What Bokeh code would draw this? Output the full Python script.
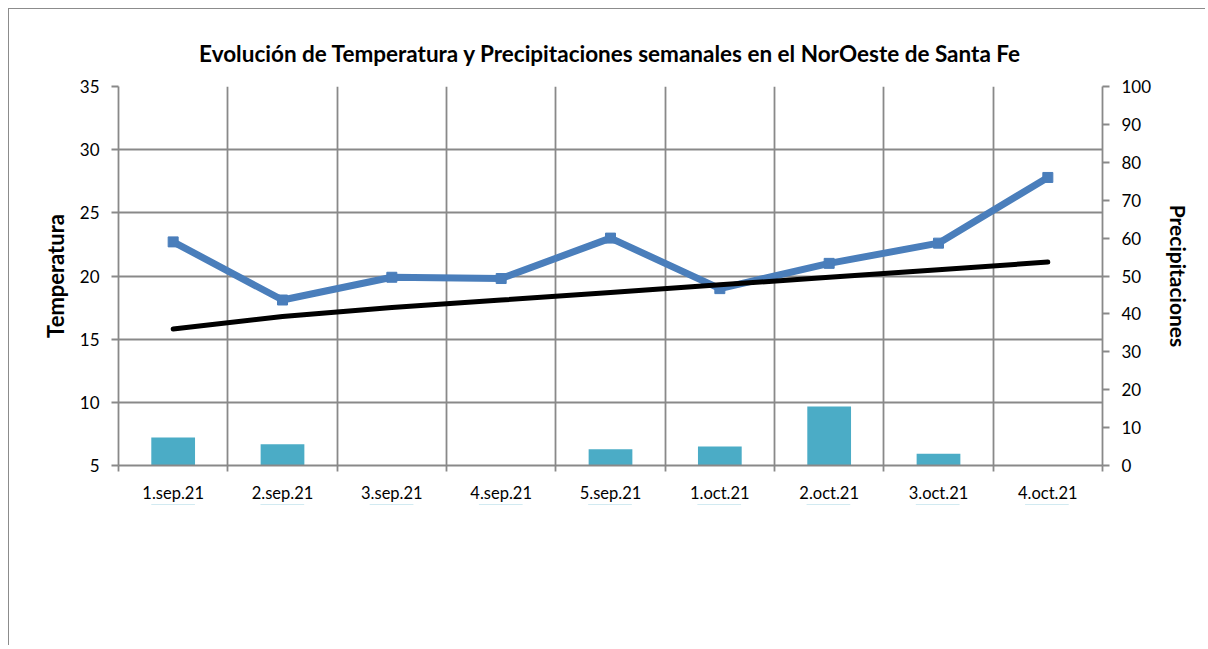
import numpy as np
from bokeh.plotting import figure
from bokeh.layouts import column
from bokeh.models import Range1d, LinearAxis, FixedTicker, Legend, LegendItem
from bokeh.embed import file_html
from bokeh.resources import INLINE

weeks = ["1.sep.21", "2.sep.21", "3.sep.21", "4.sep.21", "5.sep.21",
         "1.oct.21", "2.oct.21", "3.oct.21", "4.oct.21"]
precip = [7.4, 5.6, 0, 0, 4.3, 5.0, 15.6, 3.1, 0]
temp = [22.7, 18.1, 19.9, 19.8, 23.0, 19.0, 21.0, 22.6, 27.8]
temp_hist = [15.8, 16.8, 17.5, 18.1, 18.7, 19.3, 19.9, 20.5, 21.1]
temp_ticks = [5, 10, 15, 20, 25, 30, 35]
precip_ticks = [0, 10, 20, 30, 40, 50, 60, 70, 80, 90, 100]
labels = ["Precipitaciones (mm) 2021/22", "Temperatura media (ºC) 2021/22",
          "Temp. media histórica (ºC)"]

FONT = "Lato"
GRID = "#898989"
C_BAR = "#4BACC6"
C_TEMP = "#4A7EBB"
n = len(weeks)
xc = list(np.arange(n) + 0.5)

p = figure(frame_width=983, frame_height=378,
           output_backend="svg", toolbar_location=None,
           x_range=Range1d(0, n), y_range=Range1d(5, 35),
           min_border_left=109, min_border_right=104, min_border_top=77, min_border_bottom=0,
           styles={"border-left": "1px solid #8c8c8c", "border-top": "1px solid #8c8c8c"})
p.extra_y_ranges = {"precip": Range1d(0, 100)}

p.title.text = "Evolución de Temperatura y Precipitaciones semanales en el NorOeste de Santa Fe"
p.title.text_font = FONT
p.title.text_font_size = "22.5px"
p.title.text_font_style = "bold"
p.title.text_color = "black"
p.title.align = "center"
p.title.vertical_align = "top"
p.title.standoff = 36

p.outline_line_color = None

# grids
p.xgrid.ticker = FixedTicker(ticks=list(range(n + 1)))
p.ygrid.ticker = FixedTicker(ticks=temp_ticks)
for g in (p.xgrid, p.ygrid):
    g.grid_line_color = GRID
    g.grid_line_width = 1.8

# bottom axis
xa = p.xaxis[0]
xa.ticker = FixedTicker(ticks=xc, minor_ticks=list(range(n + 1)))
xa.major_label_overrides = {float(v): w for v, w in zip(xc, weeks)}
xa.major_tick_line_color = None
xa.minor_tick_line_color = GRID
xa.minor_tick_line_width = 1.8
xa.minor_tick_out = 6
xa.minor_tick_in = 0
xa.axis_line_color = GRID
xa.axis_line_width = 1.8
xa.major_label_text_font = FONT
xa.major_label_text_font_size = "16.5px"
xa.major_label_text_color = "black"
xa.major_label_standoff = 11

# left axis
ya = p.yaxis[0]
ya.ticker = FixedTicker(ticks=temp_ticks)
ya.minor_tick_line_color = None
ya.major_tick_out = 7
ya.major_tick_in = 0
ya.major_tick_line_color = GRID
ya.major_tick_line_width = 1.8
ya.axis_line_color = GRID
ya.axis_line_width = 1.8
ya.major_label_text_font = FONT
ya.major_label_text_font_size = "17px"
ya.major_label_text_color = "black"
ya.major_label_standoff = 12
ya.axis_label = "Temperatura"
ya.axis_label_text_font = FONT
ya.axis_label_text_font_size = "22px"
ya.axis_label_text_font_style = "bold"
ya.axis_label_text_color = "black"
ya.axis_label_standoff = 8

# right axis
ra = LinearAxis(y_range_name="precip", ticker=FixedTicker(ticks=precip_ticks))
ra.minor_tick_line_color = None
ra.major_tick_out = 7
ra.major_tick_in = 0
ra.major_tick_line_color = GRID
ra.major_tick_line_width = 1.8
ra.axis_line_color = GRID
ra.axis_line_width = 1.8
ra.major_label_text_font = FONT
ra.major_label_text_font_size = "17px"
ra.major_label_text_color = "black"
ra.major_label_standoff = 12
ra.axis_label = "Precipitaciones"
ra.axis_label_text_font = FONT
ra.axis_label_text_font_size = "21px"
ra.axis_label_text_font_style = "bold"
ra.axis_label_text_color = "black"
ra.axis_label_standoff = 12
p.add_layout(ra, "right")

p.vbar(x=xc, top=precip, bottom=0, width=0.4, y_range_name="precip",
       fill_color=C_BAR, line_color=None)
p.line(xc, temp, line_color=C_TEMP, line_width=7)
p.scatter(xc, temp, marker="square", size=10, fill_color=C_TEMP, line_color=C_TEMP)
p.line(xc, temp_hist, line_color="black", line_width=5, line_cap="round")

# legend strip below the chart: same series, ranges chosen so that only the legend shows
lg = figure(width=1196, height=141, output_backend="svg", toolbar_location=None,
            x_range=Range1d(0, n), y_range=Range1d(1000, 1001),
            x_axis_location=None, y_axis_location=None,
            min_border_left=109, min_border_right=104, min_border_top=0, min_border_bottom=0,
            styles={"border-left": "1px solid #8c8c8c"})
lg.grid.visible = False
lg.outline_line_color = None
lb = lg.vbar(x=xc, top=precip, bottom=0, width=0.4, fill_color=C_BAR, line_color=None)
ll = lg.line(xc, temp, line_color=C_TEMP, line_width=7)
lm = lg.scatter(xc, temp, marker="square", size=10, fill_color=C_TEMP, line_color=C_TEMP)
lh = lg.line(xc, temp_hist, line_color="black", line_width=5, line_cap="round")

legend = Legend(items=[
    LegendItem(label=labels[0], renderers=[lb]),
    LegendItem(label=labels[1], renderers=[ll, lm]),
    LegendItem(label=labels[2], renderers=[lh]),
], location=(-20, 33), orientation="horizontal",
    glyph_width=55, glyph_height=12, label_standoff=5, spacing=50,
    label_text_font=FONT, label_text_font_size="20px",
    border_line_color=None, background_fill_alpha=0, padding=0, margin=0)
lg.add_layout(legend, "below")

layout = column(p, lg, spacing=0, styles={"margin-left": "8px", "margin-top": "8px"})

open("out.html", "w").write(file_html(layout, INLINE))
